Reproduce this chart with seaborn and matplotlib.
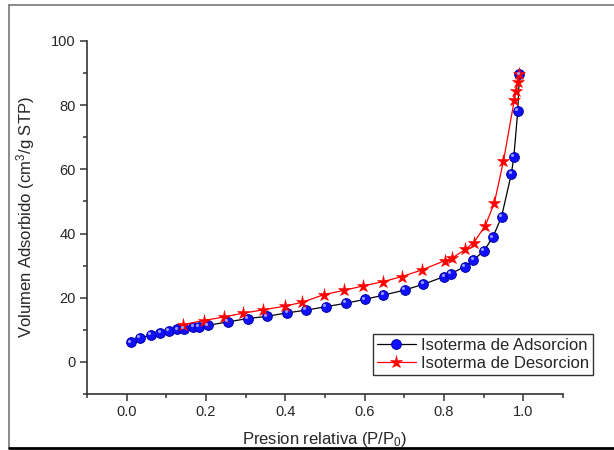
import matplotlib
matplotlib.use("Agg")
import matplotlib.pyplot as plt
from matplotlib.lines import Line2D
from matplotlib.ticker import MultipleLocator
from matplotlib.transforms import ScaledTranslation
import seaborn as sns
import pandas as pd

# Isoterma de adsorcion (P/P0, volumen)
p_ads = [0.010, 0.033, 0.062, 0.085, 0.107, 0.128, 0.145, 0.168, 0.182, 0.205,
         0.256, 0.305, 0.353, 0.405, 0.451, 0.502, 0.553, 0.601, 0.647, 0.701,
         0.748, 0.801, 0.818, 0.852, 0.874, 0.901, 0.923, 0.945, 0.970, 0.976,
         0.986, 0.990]
v_ads = [6.1, 7.4, 8.4, 9.0, 9.6, 10.1, 10.4, 10.9, 11.0, 11.4,
         12.5, 13.5, 14.2, 15.3, 16.1, 17.2, 18.3, 19.5, 20.8, 22.4,
         24.2, 26.6, 27.5, 29.7, 31.7, 34.7, 38.8, 45.2, 58.7, 63.9,
         78.2, 89.6]

# Isoterma de desorcion
p_des = [0.990, 0.986, 0.981, 0.977, 0.950, 0.927, 0.904, 0.875, 0.854, 0.820,
         0.803, 0.745, 0.694, 0.646, 0.597, 0.548, 0.498, 0.443, 0.400, 0.343,
         0.294, 0.245, 0.194, 0.142]
v_des = [89.6, 87.1, 84.4, 81.5, 62.6, 49.6, 42.4, 37.2, 35.1, 32.3,
         31.6, 28.7, 26.6, 25.0, 23.7, 22.3, 21.0, 18.6, 17.4, 16.2,
         15.2, 14.0, 12.9, 11.6]

ads = pd.DataFrame({"p": p_ads, "v": v_ads})
des = pd.DataFrame({"p": p_des, "v": v_des})

sns.set_theme(style="ticks")
plt.rcParams["font.family"] = ["Liberation Sans", "DejaVu Sans"]
plt.rcParams["mathtext.fontset"] = "custom"
plt.rcParams["mathtext.rm"] = "Liberation Sans"
plt.rcParams["mathtext.it"] = "Liberation Sans"

fig = plt.figure(figsize=(6.14, 4.5), dpi=100)
ax = fig.add_axes([87 / 614, 1 - 394 / 450, 476 / 614, 353 / 450])

sns.lineplot(data=ads, x="p", y="v", sort=False, ax=ax, color="black",
             linewidth=0.9, marker="o", markersize=7,
             markerfacecolor="#1010ff", markeredgecolor="#0000a0",
             markeredgewidth=0.7, label="Isoterma de Adsorcion")
# brillo de las esferas
brillo = ScaledTranslation(-1.3 / 72, 1.3 / 72, fig.dpi_scale_trans)
sns.scatterplot(data=ads, x="p", y="v", ax=ax, color="#9a9aff", s=5,
                linewidth=0, legend=False, zorder=3,
                transform=ax.transData + brillo)
sns.lineplot(data=des, x="p", y="v", sort=False, ax=ax, color="red",
             linewidth=0.9, marker="*", markersize=9.5,
             markerfacecolor="red", markeredgecolor="red",
             markeredgewidth=0.4, label="Isoterma de Desorcion")

ax.set_xlim(-0.1, 1.1)
ax.set_ylim(-10, 100)
ax.xaxis.set_minor_locator(MultipleLocator(0.1))
ax.yaxis.set_minor_locator(MultipleLocator(10))
ax.set_xticks([0.0, 0.2, 0.4, 0.6, 0.8, 1.0])
ax.set_xticklabels(["0.0", "0.2", "0.4", "0.6", "0.8", "1.0"])
ax.set_yticks([0, 20, 40, 60, 80, 100])

ax.tick_params(which="major", direction="out", length=5, width=1.1,
               labelsize=10.5, color="#333333", pad=3)
ax.tick_params(which="minor", direction="out", length=3, width=1.1,
               color="#333333")
for s in ["left", "bottom"]:
    ax.spines[s].set_color("#333333")
    ax.spines[s].set_linewidth(1.2)
sns.despine(ax=ax)

ax.set_xlabel("Presion relativa (P/P$_0$)", fontsize=12, labelpad=8)
ax.set_ylabel("Volumen Adsorbido (cm$^3$/g STP)", fontsize=12, labelpad=10)

leg = ax.legend(loc="lower left", bbox_to_anchor=(0.601, 0.054), fontsize=12,
                frameon=True, fancybox=False, edgecolor="#333333",
                framealpha=1, handlelength=2.3, handletextpad=0.3,
                borderpad=0.25, labelspacing=0.15, borderaxespad=0)
leg.get_frame().set_linewidth(1.0)

# marco de la figura
fig.add_artist(Line2D([9 / 614, 9 / 614], [2 / 450, 445 / 450],
                      color="#777777", linewidth=1.2))
fig.add_artist(Line2D([9 / 614, 1.0], [445 / 450, 445 / 450],
                      color="#777777", linewidth=1.2))
fig.add_artist(Line2D([9 / 614, 1.0], [2 / 450, 2 / 450],
                      color="black", linewidth=2))

fig.savefig("out.png", dpi=100)
plt.close(fig)
